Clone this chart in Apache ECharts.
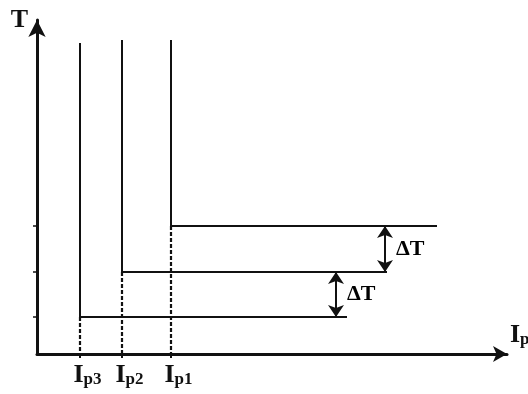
<!DOCTYPE html>
<html>
<head>
<meta charset="utf-8">
<script src="https://cdn.jsdelivr.net/npm/echarts@6/dist/echarts.min.js"></script>
<style>
html,body{margin:0;padding:0;background:#fff;}
#c{width:528px;height:394px;}
</style>
</head>
<body>
<div id="c"></div>
<script>
// Data (arbitrary units)
const currentSubscripts = ['p3', 'p2', 'p1'];
const thresholdCurrent = [43, 85, 134];
const plateauTemp = [37, 82, 128];
const plateauEnd = [310, 350, 400];
const curveTopTemp = [311, 314, 314];
const deltaArrowCurrent = [299, 348];
const deltaLabel = 'ΔT';
const xAxisMax = 470;
const yAxisMax = 334;

const INK = '#111';
const SERIF = '"Liberation Serif", "Times New Roman", serif';

const rich = {
  I: { fontSize: 26, fontWeight: 'bold', fontFamily: SERIF, color: INK, lineHeight: 26, verticalAlign: 'top' },
  s: { fontSize: 17, fontWeight: 'bold', fontFamily: SERIF, color: INK, lineHeight: 17, verticalAlign: 'bottom', padding: [12, 0, 0, 0] }
};

const series = [];
for (let i = 0; i < thresholdCurrent.length; i++) {
  series.push({
    type: 'line',
    data: [[thresholdCurrent[i], curveTopTemp[i]], [thresholdCurrent[i], plateauTemp[i]], [plateauEnd[i], plateauTemp[i]]],
    symbol: 'none',
    lineStyle: { color: INK, width: 2 },
    silent: true
  });
  series.push({
    type: 'line',
    data: [[thresholdCurrent[i], plateauTemp[i]], [thresholdCurrent[i], 0]],
    symbol: 'none',
    lineStyle: { color: INK, width: 2.2, type: [4, 2] },
    silent: true
  });
}
const deltaMid = [];
for (let k = 0; k < deltaArrowCurrent.length; k++) {
  deltaMid.push([deltaArrowCurrent[k], (plateauTemp[k] + plateauTemp[k + 1]) / 2]);
}
series.push({
  type: 'scatter',
  data: deltaMid,
  symbolSize: 0,
  silent: true,
  label: {
    show: true, position: 'right', distance: 11, formatter: deltaLabel,
    fontSize: 22, fontWeight: 'bold', fontFamily: SERIF, color: '#000', opacity: 1
  },
  markLine: {
    silent: true,
    symbol: ['arrow', 'arrow'],
    symbolSize: 12,
    label: { show: false },
    lineStyle: { color: INK, width: 2, type: 'solid' },
    data: deltaArrowCurrent.map((x, k) => [{ coord: [x, plateauTemp[k]] }, { coord: [x, plateauTemp[k + 1]] }])
  }
});

const chart = echarts.init(document.getElementById('c'));
chart.setOption({
  animation: false,
  backgroundColor: '#fff',
  grid: { left: 37, right: 21, top: 20, bottom: 40, containLabel: false, outerBoundsMode: 'none' },
  xAxis: {
    type: 'value', min: 0, max: xAxisMax,
    name: '{I|I}{s|p}',
    nameLocation: 'end', nameGap: 3,
    nameTextStyle: { rich: rich, align: 'left', verticalAlign: 'bottom', padding: [0, 0, 6, 0] },
    axisLine: { show: true, symbol: ['none', 'arrow'], symbolSize: [12, 14], lineStyle: { color: INK, width: 3 } },
    axisTick: { show: true, customValues: thresholdCurrent, length: 4, lineStyle: { color: INK, width: 2 } },
    axisLabel: {
      show: true, customValues: thresholdCurrent, margin: 8,
      padding: [0, 0, 0, 15],
      formatter: function (v) {
        const idx = thresholdCurrent.indexOf(v);
        return '{I|I}{s|' + currentSubscripts[idx] + '}';
      },
      rich: rich
    },
    splitLine: { show: false }
  },
  yAxis: {
    type: 'value', min: 0, max: yAxisMax,
    name: 'T',
    nameLocation: 'end', nameGap: 13,
    nameTextStyle: { fontSize: 26, fontWeight: 'bold', fontFamily: SERIF, color: INK, align: 'right', verticalAlign: 'top', lineHeight: 26, padding: [0, 9, 0, 0] },
    axisLine: { show: true, symbol: ['none', 'arrow'], symbolSize: [13, 17], lineStyle: { color: INK, width: 3 } },
    axisTick: { show: true, customValues: plateauTemp, length: 4, lineStyle: { color: INK, width: 1.5 } },
    axisLabel: { show: false },
    splitLine: { show: false }
  },
  series: series
});
</script>
</body>
</html>
